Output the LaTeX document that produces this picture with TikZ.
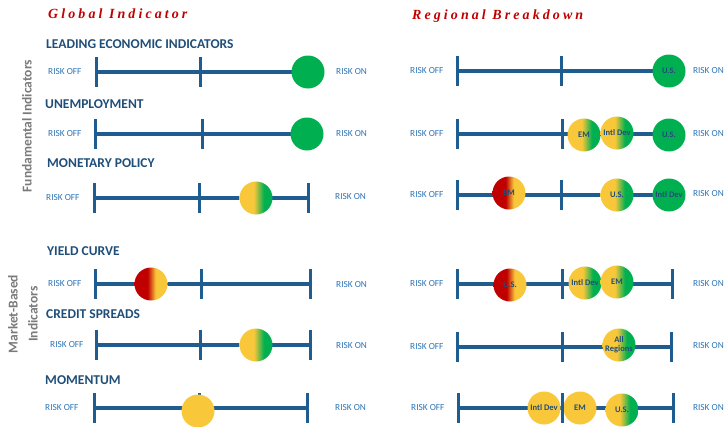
\documentclass[tikz,border=0pt]{standalone}
\usepackage{fontspec}
\setmainfont{Carlito}
\newfontfamily\titlefont[LetterSpace=22]{Liberation Serif}
\definecolor{barblue}{HTML}{1F5C8F}
\definecolor{headblue}{HTML}{1F4E79}
\definecolor{riskblue}{HTML}{2E75B6}
\definecolor{cgreen}{HTML}{00B050}
\definecolor{cyellow}{HTML}{F8C73A}
\definecolor{cred}{HTML}{C00000}
\definecolor{titlered}{HTML}{C00000}
\definecolor{sidegray}{HTML}{7A7A7A}
\pgfdeclarehorizontalshading{ygshade}{100bp}{color(0bp)=(cyellow); color(47bp)=(cyellow); color(62bp)=(cgreen); color(100bp)=(cgreen)}
\pgfdeclarehorizontalshading{ryshade}{100bp}{color(0bp)=(cred); color(45bp)=(cred); color(57bp)=(cyellow); color(100bp)=(cyellow)}
\tikzset{
  bar/.style={draw=barblue, line width=3.2pt},
  tickmark/.style={draw=barblue, line width=3pt},
  dot/.style={circle, minimum size=33pt, inner sep=0pt, font=\fontsize{8.5}{9}\selectfont\bfseries, text=headblue, align=center},
  gdot/.style={dot, fill=cgreen},
  ydot/.style={dot, fill=cyellow},
  ygdot/.style={dot, shading=ygshade},
  rydot/.style={dot, shading=ryshade},
  risk/.style={font=\fontsize{9.3}{10}\selectfont, text=riskblue, anchor=west, inner sep=0pt},
  riskedge/.style={risk, anchor=east},
  rowtitle/.style={font=\fontsize{13.5}{15}\selectfont\bfseries, text=headblue, anchor=west, inner sep=0pt},
  panel/.style={font=\titlefont\fontsize{14}{16}\selectfont\bfseries\itshape, text=titlered, anchor=west, inner sep=0pt},
  side/.style={font=\fontsize{13.5}{20}\selectfont\bfseries, text=sidegray, rotate=90, align=center, inner sep=0pt}
}
\newcommand\scalerow[5]{%
  \coordinate (#1a) at (#3,#2);
  \coordinate (#1b) at (#4,#2);
  \coordinate (#1c) at (#5,#2);
  \draw[bar] (#1a) -- (#1c);
  \draw[tickmark] ([yshift=15pt]#1a) -- ([yshift=-15pt]#1a);
  \draw[tickmark] ([yshift=15pt]#1b) -- ([yshift=-15pt]#1b);
  \draw[tickmark] ([yshift=15pt]#1c) -- ([yshift=-15pt]#1c);
}
\begin{document}
\begin{tikzpicture}[x=1pt,y=-1pt]
\useasboundingbox (0,0) rectangle (725,426);

% panel titles
\node[panel] (tglobal) at (48,14) {Global Indicator};
\node[panel] (tregion) at (412,16) {Regional Breakdown};

% side labels
\node[side] (fund) at (27,126) {Fundamental Indicators};
\node[side] (mkt) at (23,314) {Market-Based\\Indicators};

% row titles
\node[rowtitle] (h1) at (46,44) {LEADING ECONOMIC INDICATORS};
\node[rowtitle] (h2) at (45,104) {UNEMPLOYMENT};
\node[rowtitle] (h3) at (47,163) {MONETARY POLICY};
\node[rowtitle] (h4) at (47,251) {YIELD CURVE};
\node[rowtitle] (h5) at (46,314) {CREDIT SPREADS};
\node[rowtitle] (h6) at (45,380) {MOMENTUM};

% left scales
\scalerow{La}{72}{96}{200}{308}
\scalerow{Lb}{134}{95}{202}{307}
\scalerow{Lc}{198}{94}{199}{308}
\scalerow{Ld}{284}{95}{201}{310}
\scalerow{Le}{345}{96}{200}{310}
\scalerow{Lf}{408}{94}{199}{307}

% right scales
\scalerow{Ra}{71}{457}{561}{670}
\scalerow{Rb}{134}{457}{562}{670}
\scalerow{Rc}{195}{457}{561}{671}
\scalerow{Rd}{284}{457}{562}{672}
\scalerow{Re}{347}{457}{562}{671}
\scalerow{Rf}{408}{458}{562}{673}

% risk labels left
\node[risk] (loa) at (48,72) {RISK OFF};
\node[risk] (lona) at (336,72) {RISK ON};
\node[risk] (lob) at (48,134) {RISK OFF};
\node[risk] (lonb) at (336,134) {RISK ON};
\node[risk] (loc) at (46,198) {RISK OFF};
\node[risk] (lonc) at (335,197) {RISK ON};
\node[risk] (lod) at (48,284) {RISK OFF};
\node[risk] (lond) at (336,285) {RISK ON};
\node[risk] (loe) at (50,345) {RISK OFF};
\node[risk] (lone) at (336,346) {RISK ON};
\node[risk] (lof) at (45,408) {RISK OFF};
\node[risk] (lonf) at (335,408) {RISK ON};

% risk labels right
\node[risk] (roa) at (410,71) {RISK OFF};
\node[riskedge] (rona) at (724,71) {RISK ON};
\node[risk] (rob) at (410,134) {RISK OFF};
\node[riskedge] (ronb) at (724,134) {RISK ON};
\node[risk] (roc) at (410,195) {RISK OFF};
\node[riskedge] (ronc) at (724,194) {RISK ON};
\node[risk] (rod) at (410,284) {RISK OFF};
\node[riskedge] (rond) at (724,284) {RISK ON};
\node[risk] (roe) at (410,347) {RISK OFF};
\node[riskedge] (rone) at (724,346) {RISK ON};
\node[risk] (rof) at (411,408) {RISK OFF};
\node[riskedge] (ronf) at (724,408) {RISK ON};

% left circles
\node[gdot] (ca) at (308,72) {};
\node[gdot] (cb) at (307,134) {};
\node[ygdot] (cc) at (256,198) {};
\node[rydot] (cd) at (151,284) {};
\node[ygdot] (ce) at (256,345) {};
\node[ydot] (cf) at (198,411) {};

% right circles
\node[gdot] (rau) at (669,71) {U.S.};
\node[ygdot] (rbe) at (584,135) {EM};
\node[ygdot] (rbi) at (617,133) {Intl Dev};
\node[gdot] (rbu) at (669,135) {U.S.};
\node[rydot] (rce) at (509,193) {EM};
\node[ygdot] (rcu) at (617,195) {U.S.};
\node[gdot] (rci) at (669,195) {Intl Dev};
\node[rydot] (rdu) at (510,285) {U.S.};
\node[ygdot] (rdi) at (585,283) {Intl Dev};
\node[ygdot] (rde) at (617,282) {EM};
\node[ygdot] (rea) at (619,345) {All\\Regions};
\node[ydot] (rfi) at (544,408) {Intl Dev};
\node[ydot] (rfe) at (580,408) {EM};
\node[ygdot] (rfu) at (622,410) {U.S.};
\draw[tickmark] ([yshift=15pt]Rfb) -- ([yshift=-15pt]Rfb);
\end{tikzpicture}
\end{document}
